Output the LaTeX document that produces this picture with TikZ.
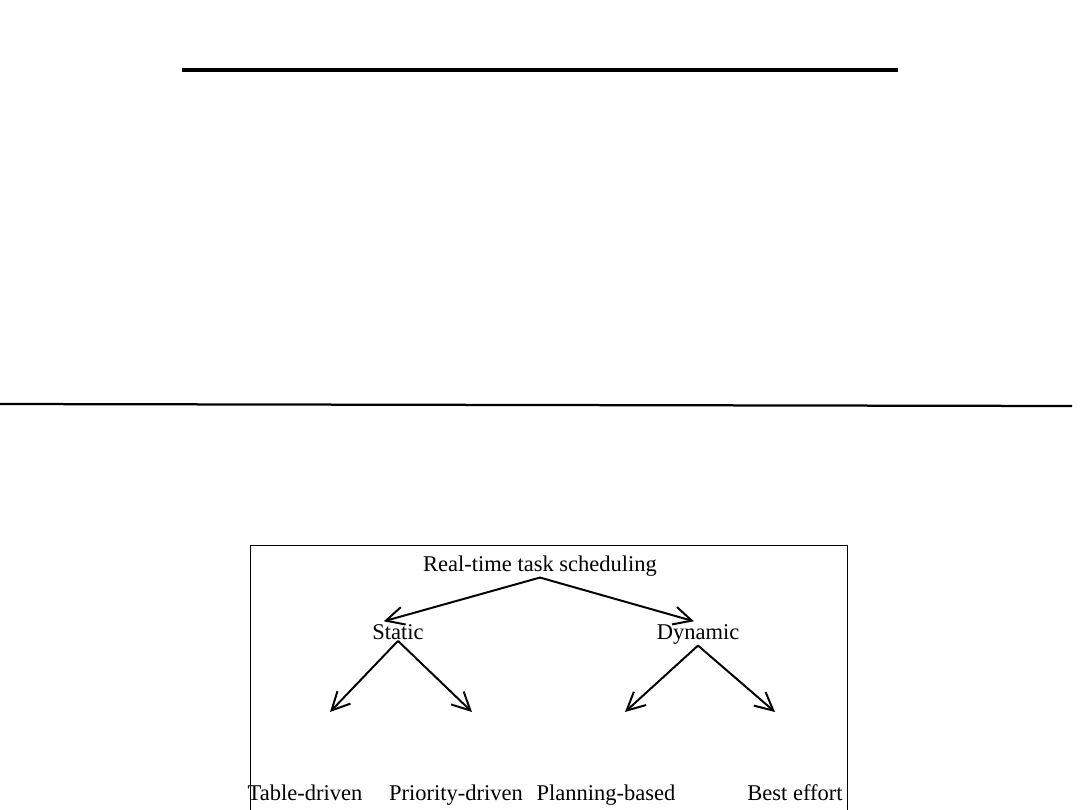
\documentclass[tikz,border=0pt]{standalone}
\usepackage{fontspec}
\setmainfont{Liberation Serif}
\usetikzlibrary{arrows.meta}
\tikzset{>={Straight Barb[length=4.5mm,width=4.5mm]}}
\begin{document}
\begin{tikzpicture}[x=0.025cm,y=-0.025cm,font=\fontsize{16}{18}\selectfont,
  lbl/.style={inner sep=1pt,anchor=base},
  edge/.style={line width=1.4pt,->}]
	\useasboundingbox (0,0) rectangle (1080,810);
	\draw[line width=2.9pt] (182,70)--(898,70);
	\draw[line width=1.6pt] (0,404)--(1072,406);
	\draw[line width=0.7pt] (250,812)--(250,545)--(847,545)--(847,812);
	\node[lbl] (root) at (540,571) {Real-time task scheduling};
	\node[lbl] (stat) at (398,639) {Static};
	\node[lbl] (dyn) at (698,639) {Dynamic};
	\node[lbl] (tab) at (305,800) {Table-driven};
	\node[lbl] (prio) at (456,800) {Priority-driven};
	\node[lbl] (plan) at (606,800) {Planning-based};
	\node[lbl] (best) at (795,800) {Best effort};
	\coordinate (tab in) at (330,712);
	\coordinate (prio in) at (472,712);
	\coordinate (plan in) at (625,712);
	\coordinate (best in) at (775,712);
	\draw[edge,shorten >=3pt] (root.south) -- ([xshift=-13pt]stat.north);
	\draw[edge,shorten >=3pt] (root.south) -- (dyn.north);
	\draw[edge] (stat.south) -- (tab in);
	\draw[edge] (stat.south) -- (prio in);
	\draw[edge] (dyn.south) -- (plan in);
	\draw[edge] (dyn.south) -- (best in);
\end{tikzpicture}
\end{document}
